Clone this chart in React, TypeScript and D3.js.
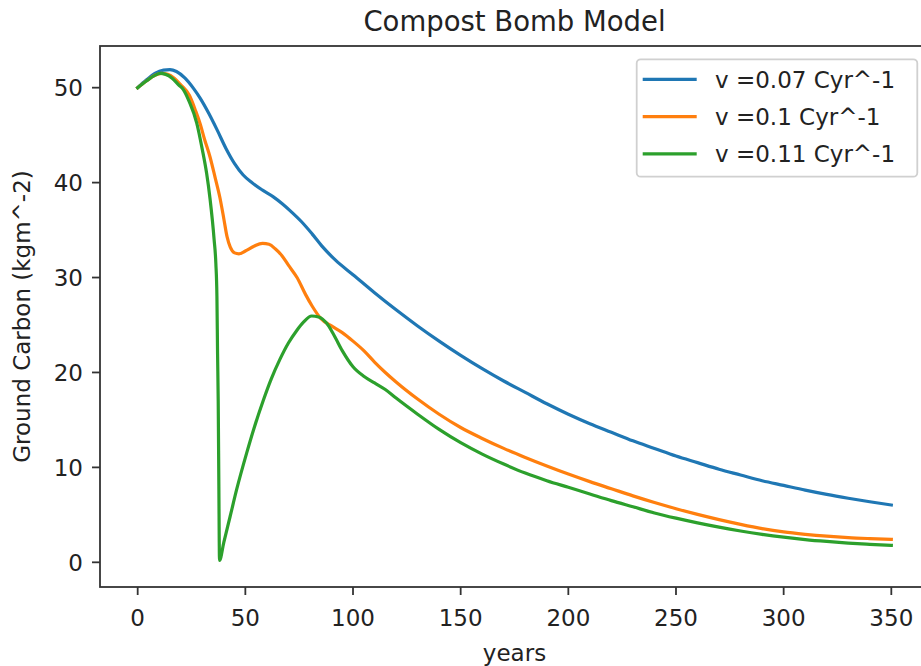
import React from "react";
import * as d3 from "d3";

const xTicks = [0, 50, 100, 150, 200, 250, 300, 350];
const yTicks = [0, 10, 20, 30, 40, 50];

const labels = ["v =0.07 Cyr^-1", "v =0.1 Cyr^-1", "v =0.11 Cyr^-1"];
const colors = ["#1f77b4", "#ff7f0e", "#2ca02c"];

const blueYears = [0, 4, 8, 12, 15, 18, 22, 26, 29, 33, 37, 41, 45, 49, 53, 58, 63, 67, 71, 76, 81, 86, 92, 100, 110, 120, 130, 140, 150, 160, 170, 180, 190, 200, 210, 220, 230, 240, 250, 260, 270, 280, 290, 300, 310, 320, 330, 340, 350];
const blueCarbon = [50, 50.8, 51.5, 51.85, 51.9, 51.7, 51.0, 49.9, 48.9, 47.3, 45.5, 43.6, 42.0, 40.8, 40.0, 39.2, 38.5, 37.8, 37.0, 35.9, 34.6, 33.2, 31.8, 30.3, 28.4, 26.6, 24.9, 23.3, 21.8, 20.4, 19.1, 17.9, 16.7, 15.6, 14.6, 13.7, 12.8, 12.0, 11.2, 10.5, 9.8, 9.2, 8.6, 8.1, 7.6, 7.15, 6.75, 6.38, 6.04];

const orangeYears = [0, 4, 8, 11, 14, 17, 20, 24, 27, 29, 31, 33.6, 36, 38.2, 40, 41.5, 43, 45, 47, 50, 54, 58, 61, 64, 67, 70, 74, 78, 81, 85, 90, 95, 100, 105, 110, 115, 120, 130, 140, 150, 160, 170, 180, 190, 200, 210, 220, 230, 240, 250, 260, 270, 280, 290, 300, 310, 320, 330, 340, 350];
const orangeCarbon = [50, 50.7, 51.3, 51.5, 51.4, 51.0, 50.3, 49.2, 47.5, 46.2, 44.6, 42.7, 40.5, 38.4, 36.2, 34.3, 33.2, 32.6, 32.5, 32.8, 33.3, 33.6, 33.5, 33.0, 32.3, 31.3, 30.0, 28.2, 27.0, 25.7, 24.9, 24.2, 23.3, 22.3, 21.1, 20.0, 19.0, 17.2, 15.6, 14.2, 13.05, 12.0, 11.05, 10.15, 9.3, 8.5, 7.75, 7.0, 6.3, 5.65, 5.05, 4.5, 4.0, 3.55, 3.2, 2.95, 2.75, 2.6, 2.5, 2.42];

const greenYears = [0, 4, 8, 10.4, 13, 16, 19, 21.2, 24, 27.4, 30, 32, 33.6, 35.5, 36.3, 36.8, 37.1, 37.4, 37.7, 38, 40, 42.9, 46, 50.6, 54, 58.4, 62, 66.1, 70, 73.8, 77, 80.8, 84, 87.7, 91, 95, 100, 105, 110, 115, 120, 130, 140, 150, 160, 170, 180, 190, 200, 210, 220, 230, 240, 250, 260, 270, 280, 290, 300, 310, 320, 330, 340, 350];
const greenCarbon = [50, 50.7, 51.3, 51.5, 51.4, 51.0, 50.3, 49.8, 48.5, 46.3, 43.5, 41.0, 38.3, 34.0, 31.5, 28.0, 22.0, 17.0, 8.0, 0.2, 2.1, 4.8, 7.7, 11.5, 14.1, 17.1, 19.3, 21.4, 23.1, 24.4, 25.3, 25.95, 25.85, 25.2, 24.0, 22.3, 20.6, 19.6, 18.9, 18.2, 17.3, 15.6, 14.0, 12.6, 11.4, 10.35, 9.4, 8.6, 7.9, 7.2, 6.5, 5.85, 5.2, 4.65, 4.15, 3.7, 3.3, 2.95, 2.65, 2.4, 2.2, 2.03, 1.9, 1.79];

const seriesYears = [blueYears, orangeYears, greenYears];
const seriesCarbon = [blueCarbon, orangeCarbon, greenCarbon];

const W = 921;
const H = 666;
const FONT = "'DejaVu Sans', sans-serif";
const TXT = "#222";

export default function App() {
  const x = d3.scaleLinear().domain([-17.5, 367.5]).range([100, 929]);
  const y = d3.scaleLinear().domain([-2.6, 54.39]).range([587, 46]);
  const line = d3
    .line<[number, number]>()
    .x((d) => x(d[0]))
    .y((d) => y(d[1]))
    .curve(d3.curveMonotoneX);

  const series = seriesYears.map((yrs, i) =>
    yrs.map((yr, j) => [yr, seriesCarbon[i][j]] as [number, number])
  );

  const x0 = 100, x1 = 929, yTop = 46, yBot = 587;
  const legX = 636.7, legY = 59.3, legW = 280.6, legH = 117.4;
  const rowH = 37.3;

  return (
    <svg
      width={W}
      height={H}
      style={{ position: "absolute", left: 0, top: 0, background: "#fff" }}
      fontFamily={FONT}
    >
      <rect x={0} y={0} width={W} height={H} fill="#fff" />
      <defs>
        <clipPath id="plot">
          <rect x={x0} y={yTop} width={x1 - x0} height={yBot - yTop} />
        </clipPath>
      </defs>
      <g clipPath="url(#plot)">
        {series.map((s, i) => (
          <path
            key={i}
            d={line(s) || ""}
            fill="none"
            stroke={colors[i]}
            strokeWidth={3.2}
            strokeLinejoin="round"
            strokeLinecap="square"
          />
        ))}
      </g>
      <rect x={x0} y={yTop} width={x1 - x0} height={yBot - yTop} fill="none" stroke="#333" strokeWidth={1.8} />
      {xTicks.map((t) => (
        <g key={"x" + t}>
          <line x1={x(t)} x2={x(t)} y1={yBot} y2={yBot + 8} stroke="#333" strokeWidth={1.8} />
          <text x={x(t)} y={626} textAnchor="middle" fontSize={23} fill={TXT}>
            {t}
          </text>
        </g>
      ))}
      {yTicks.map((t) => (
        <g key={"y" + t}>
          <line x1={x0 - 8} x2={x0} y1={y(t)} y2={y(t)} stroke="#333" strokeWidth={1.8} />
          <text x={83} y={y(t) + 8.3} textAnchor="end" fontSize={23} fill={TXT}>
            {t}
          </text>
        </g>
      ))}
      <text x={(x0 + x1) / 2} y={661} textAnchor="middle" fontSize={23} fill={TXT}>
        years
      </text>
      <text
        transform={`translate(30,${(yTop + yBot) / 2}) rotate(-90)`}
        textAnchor="middle"
        fontSize={23}
        fill={TXT}
      >
        Ground Carbon (kgm^-2)
      </text>
      <text x={(x0 + x1) / 2} y={31} textAnchor="middle" fontSize={27.5} fill={TXT}>
        Compost Bomb Model
      </text>
      <rect
        x={legX}
        y={legY}
        width={legW}
        height={legH}
        rx={4}
        fill="#fff"
        fillOpacity={0.8}
        stroke="#d0d0d0"
        strokeWidth={1.8}
      />
      {labels.map((lab, i) => (
        <g key={lab}>
          <line
            x1={642.7}
            x2={696.7}
            y1={79.3 + i * rowH}
            y2={79.3 + i * rowH}
            stroke={colors[i]}
            strokeWidth={3.2}
          />
          <text x={715} y={79.3 + i * rowH + 8.5} fontSize={23} fill={TXT}>
            {lab}
          </text>
        </g>
      ))}
    </svg>
  );
}
